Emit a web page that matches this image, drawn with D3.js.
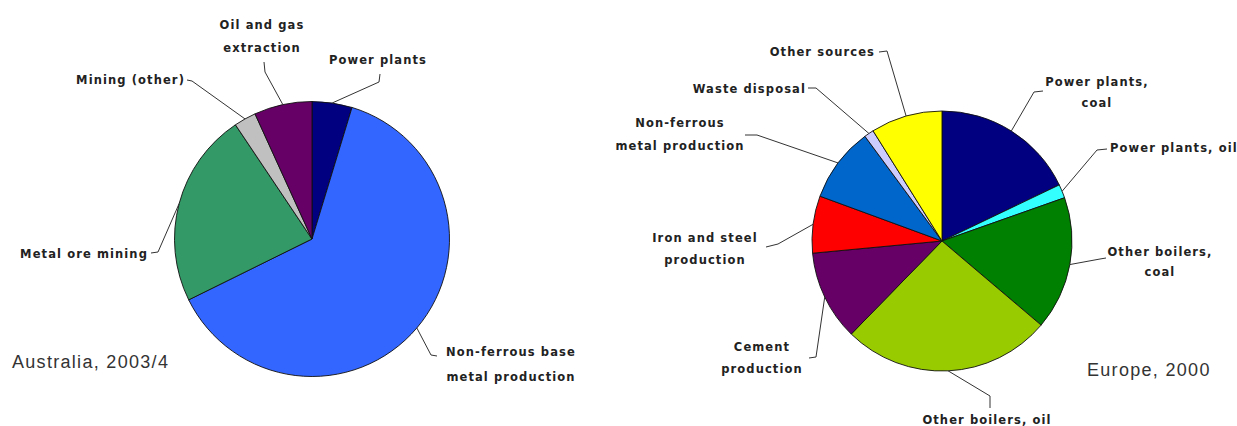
<!DOCTYPE html>
<html>
<head>
<meta charset="utf-8">
<script src="https://cdn.jsdelivr.net/npm/d3@7"></script>
<style>
  html, body { margin: 0; padding: 0; background: #fff; }
  svg { display: block; }
  .lbl { font-family: "DejaVu Sans", Verdana, sans-serif; font-weight: bold; font-size: 11.5px; letter-spacing: 1.1px; fill: #222; }
  .ttl { font-family: "Liberation Sans", Arial, sans-serif; font-size: 18px; letter-spacing: 1.3px; fill: #333; }
</style>
</head>
<body>
<svg id="chart" width="1237" height="426"></svg>
<script>
// ---- Data: Australia, 2003/4 ----
const ausCategories = ["Power plants", "Non-ferrous base metal production", "Metal ore mining", "Mining (other)", "Oil and gas extraction"];
const ausValues = [4.7, 63.0, 22.9, 2.6, 6.8];
const ausColors = ["#000080", "#3366FF", "#339966", "#C0C0C0", "#660066"];
const ausLabelLines = [["Power plants"], ["Non-ferrous base", "metal production"], ["Metal ore mining"], ["Mining (other)"], ["Oil and gas", "extraction"]];
const ausTitle = "Australia, 2003/4";

// ---- Data: Europe, 2000 ----
const eurCategories = ["Power plants, coal", "Power plants, oil", "Other boilers, coal", "Other boilers, oil", "Cement production", "Iron and steel production", "Non-ferrous metal production", "Waste disposal", "Other sources"];
const eurValues = [17.9, 1.7, 16.6, 26.1, 11.2, 7.1, 9.3, 1.2, 8.9];
const eurColors = ["#000080", "#33FFFF", "#008000", "#99CC00", "#660066", "#FF0000", "#0066CC", "#CCCCFF", "#FFFF00"];
const eurLabelLines = [["Power plants,", "coal"], ["Power plants, oil"], ["Other boilers,", "coal"], ["Other boilers, oil"], ["Cement", "production"], ["Iron and steel", "production"], ["Non-ferrous", "metal production"], ["Waste disposal"], ["Other sources"]];
const eurTitle = "Europe, 2000";

// ---- Layout (positions only) ----
const ausLayout = {
  cx: 312, cy: 239, r: 137.5,
  title: { x: 12, y: 368 },
  labels: [
    { x: 378, y: 64, anchor: "middle", lh: 23, path: [[379, 82], [380, 74]] },
    { x: 511, y: 356, anchor: "middle", lh: 25, path: [[431, 355], [437, 356]] },
    { x: 148, y: 258, anchor: "end", lh: 23, path: [[158, 252], [151, 253]] },
    { x: 185, y: 84, anchor: "end", lh: 23, path: [[192, 81], [187, 80]] },
    { x: 262, y: 29, anchor: "middle", lh: 23, path: [[265, 72], [264, 62]] }
  ]
};
const eurLayout = {
  cx: 942, cy: 241, r: 130,
  title: { x: 1087, y: 376 },
  labels: [
    { x: 1097, y: 86, anchor: "middle", lh: 21, path: [[1034, 92], [1043, 91]] },
    { x: 1110, y: 152, anchor: "start", lh: 21, path: [[1097, 150], [1107, 149]] },
    { x: 1160, y: 256, anchor: "middle", lh: 20, path: [[1100, 259], [1106, 258]] },
    { x: 987, y: 424, anchor: "middle", lh: 20, path: [[990, 396], [990, 408]] },
    { x: 762, y: 351, anchor: "middle", lh: 22, path: [[816, 357], [809, 358]] },
    { x: 705, y: 242, anchor: "middle", lh: 22, path: [[778, 244], [766, 247]] },
    { x: 680, y: 127, anchor: "middle", lh: 23, path: [[757, 135], [745, 135]] },
    { x: 806, y: 93, anchor: "end", lh: 21, path: [[816, 88], [808, 88]] },
    { x: 875, y: 56, anchor: "end", lh: 21, path: [[887, 51], [879, 52]] }
  ]
};

const svg = d3.select("#chart");

function drawPie(categories, values, colors, labelLines, title, layout) {
  const data = categories.map((c, i) => ({ name: c, value: values[i], color: colors[i], lines: labelLines[i], lay: layout.labels[i] }));
  const pie = d3.pie().sort(null).value(d => d.value).startAngle(0).endAngle(2 * Math.PI);
  const arcs = pie(data);
  const arc = d3.arc().innerRadius(0).outerRadius(layout.r);
  const edgeArc = d3.arc().innerRadius(layout.r).outerRadius(layout.r);

  const g = svg.append("g").attr("transform", `translate(${layout.cx},${layout.cy})`);
  g.selectAll("path.slice").data(arcs).join("path")
    .attr("class", "slice")
    .attr("d", arc)
    .attr("fill", d => d.data.color)
    .attr("stroke", "#111")
    .attr("stroke-width", 0.9)
    .attr("stroke-linejoin", "round");

  // leader lines
  const line = d3.line();
  arcs.forEach(a => {
    const c = edgeArc.centroid(a);
    const pts = [[c[0] + layout.cx, c[1] + layout.cy]].concat(a.data.lay.path);
    svg.append("path")
      .attr("d", line(pts))
      .attr("fill", "none")
      .attr("stroke", "#333")
      .attr("stroke-width", 1);
  });

  // labels
  arcs.forEach(a => {
    const L = a.data.lay;
    const t = svg.append("text").attr("class", "lbl").attr("text-anchor", L.anchor);
    a.data.lines.forEach((s, i) => {
      t.append("tspan").attr("x", L.x).attr("y", L.y + i * L.lh).text(s);
    });
  });

  svg.append("text").attr("class", "ttl")
    .attr("x", layout.title.x).attr("y", layout.title.y).text(title);
}

drawPie(ausCategories, ausValues, ausColors, ausLabelLines, ausTitle, ausLayout);
drawPie(eurCategories, eurValues, eurColors, eurLabelLines, eurTitle, eurLayout);
</script>
</body>
</html>
